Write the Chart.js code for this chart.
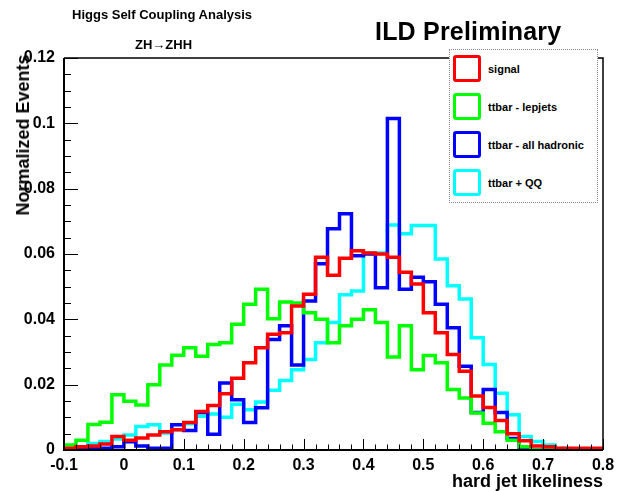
<!DOCTYPE html>
<html>
<head>
<meta charset="utf-8">
<script src="https://cdn.jsdelivr.net/npm/chart.js@4"></script>
<style>
  body { margin: 0; background: #fff; }
  #wrap { position: relative; width: 617px; height: 491px; font-family: "Liberation Sans", Arial, sans-serif; color: #000; }
  #c { position: absolute; left: 0; top: 0; }
  .txt { position: absolute; white-space: nowrap; font-weight: bold; line-height: 1; }
  #legend { position: absolute; left: 449px; top: 49px; width: 147px; height: 152px; border: 1px dotted #888; background: #fff; }
  .item { position: absolute; left: 3px; height: 27px; }
  .box { position: absolute; left: 0; top: 0; width: 22px; height: 21px; border: 3px solid; border-radius: 3px; }
  .lab { position: absolute; left: 35px; top: 8px; font-size: 11px; font-weight: bold; white-space: nowrap; }
</style>
</head>
<body>
<div id="wrap">
  <canvas id="c" width="617" height="491"></canvas>
  <div class="txt" style="left:72px; top:8px; font-size:13px;">Higgs Self Coupling Analysis</div>
  <div class="txt" style="left:135px; top:38px; font-size:13px;">ZH&#8594;ZHH</div>
  <div class="txt" style="left:375px; top:19px; font-size:25px; letter-spacing:0.2px;">ILD Preliminary</div>
  <div class="txt" style="left:23px; top:135px; font-size:18px; transform: translate(-50%,-50%) rotate(-90deg);">Normalized Events</div>
  <div class="txt" style="right:14px; top:472px; font-size:18px;">hard jet likeliness</div>
  <div id="legend"></div>
</div>
<script>
// histogram binning: 45 bins of 0.02 from -0.1 to 0.8
const binLow = -0.1;
const binWidth = 0.02;
const nBins = 45;

const labels = ["signal", "ttbar - lepjets", "ttbar - all  hadronic", "ttbar + QQ"];
const colors = ["#ff0000", "#00ff00", "#0000ff", "#00ffff"];

const signal = [
  0.0005, 0.0010, 0.0012, 0.0018, 0.0041, 0.0030, 0.0037, 0.0046, 0.0056, 0.0062,
  0.0084, 0.0118, 0.0136, 0.0172, 0.0220, 0.0267, 0.0313, 0.0354, 0.0359, 0.0441,
  0.0477, 0.0590, 0.0535, 0.0587, 0.0610, 0.0603, 0.0600, 0.0590, 0.0544, 0.0508,
  0.0420, 0.0359, 0.0292, 0.0241, 0.0165, 0.0130, 0.0090, 0.0050, 0.0028, 0.0012,
  0.0010, 0.0005, 0.0005, 0.0005, 0.0005
];
const lepjets = [
  0.0015, 0.0030, 0.0078, 0.0085, 0.0169, 0.0149, 0.0138, 0.0200, 0.0260, 0.0290,
  0.0313, 0.0287, 0.0323, 0.0328, 0.0385, 0.0446, 0.0492, 0.0402, 0.0453, 0.0450,
  0.0420, 0.0400, 0.0328, 0.0380, 0.0400, 0.0429, 0.0390, 0.0285, 0.0380, 0.0246,
  0.0289, 0.0267, 0.0185, 0.0159, 0.0113, 0.0082, 0.0056, 0.0030, 0.0010, 0.0000,
  0.0000, 0.0000, 0.0000, 0.0000, 0.0000
];
const allHadronic = [
  0.0003, 0.0003, 0.0005, 0.0005, 0.0010, 0.0025, 0.0012, 0.0005, 0.0005, 0.0077,
  0.0060, 0.0115, 0.0048, 0.0205, 0.0154, 0.0084, 0.0129, 0.0338, 0.0380, 0.0260,
  0.0456, 0.0570, 0.0677, 0.0723, 0.0595, 0.0600, 0.0497, 0.1015, 0.0492, 0.0529,
  0.0515, 0.0446, 0.0374, 0.0256, 0.0115, 0.0185, 0.0115, 0.0035, 0.0005, 0.0000,
  0.0000, 0.0000, 0.0000, 0.0000, 0.0000
];
const plusQQ = [
  0.0003, 0.0008, 0.0020, 0.0026, 0.0034, 0.0046, 0.0072, 0.0077, 0.0052, 0.0062,
  0.0080, 0.0103, 0.0110, 0.0100, 0.0140, 0.0123, 0.0147, 0.0183, 0.0213, 0.0246,
  0.0277, 0.0328, 0.0390, 0.0475, 0.0487, 0.0603, 0.0603, 0.0689, 0.0662, 0.0687,
  0.0687, 0.0585, 0.0503, 0.0462, 0.0344, 0.0262, 0.0174, 0.0108, 0.0041, 0.0026,
  0.0015, 0.0005, 0.0000, 0.0000, 0.0000
];

const xTicks = { min: -0.1, max: 0.8, step: 0.1 };
const yTicks = { min: 0, max: 0.12, step: 0.02 };

// points at every bin low edge plus the last high edge, drawn as steps
function histPoints(vals) {
  const pts = vals.map((v, i) => ({ x: binLow + i * binWidth, y: v }));
  pts.push({ x: binLow + nBins * binWidth, y: vals[vals.length - 1] });
  return pts;
}

const series = [signal, lepjets, allHadronic, plusQQ];

// legend
const legend = document.getElementById("legend");
labels.forEach((l, i) => {
  const it = document.createElement("div");
  it.className = "item";
  it.style.top = (5 + i * 38) + "px";
  it.innerHTML = '<div class="box" style="border-color:' + colors[i] + '"></div><div class="lab">' + l + '</div>';
  legend.appendChild(it);
});

// ROOT style labels: 0.1 not 0.10
const rootLabel = (v) => String(+Number(v).toFixed(2));

// frame and inward ticks like ROOT
const frameTicks = {
  id: "frameTicks",
  afterDatasetsDraw(chart) {
    const { ctx, chartArea: a, scales } = chart;
    const x = scales.x, y = scales.y;
    ctx.save();
    ctx.strokeStyle = "#000";
    ctx.lineWidth = 1;
    ctx.beginPath();
    for (let k = 0; k <= 45; k++) {
      const px = Math.round(x.getPixelForValue(-0.1 + k * 0.02)) + 0.5;
      const len = k % 5 === 0 ? 11 : 5.5;
      ctx.moveTo(px, a.bottom);
      ctx.lineTo(px, a.bottom - len);
    }
    for (let k = 0; k <= 24; k++) {
      const py = Math.round(y.getPixelForValue(k * 0.005)) + 0.5;
      const len = k % 4 === 0 ? 14 : 7;
      ctx.moveTo(a.left, py);
      ctx.lineTo(a.left + len, py);
    }
    ctx.stroke();
    ctx.lineWidth = 1.5;
    ctx.beginPath();
    ctx.moveTo(a.left, a.top);
    ctx.lineTo(a.right, a.top);
    ctx.lineTo(a.right, a.bottom);
    ctx.stroke();
    ctx.lineWidth = 2;
    ctx.beginPath();
    ctx.moveTo(a.left, a.top);
    ctx.lineTo(a.left, a.bottom);
    ctx.lineTo(a.right, a.bottom);
    ctx.stroke();
    ctx.restore();
  }
};

Chart.defaults.font.family = '"Liberation Sans", Arial, sans-serif';
Chart.defaults.color = "#000";

new Chart(document.getElementById("c").getContext("2d"), {
  type: "line",
  data: {
    datasets: series.map((s, i) => ({
      label: labels[i],
      data: histPoints(s),
      borderColor: colors[i],
      borderWidth: 3.5,
      stepped: "before",
      pointRadius: 0,
      fill: false,
      borderJoinStyle: "miter",
      borderCapStyle: "butt"
    }))
  },
  options: {
    responsive: false,
    animation: false,
    devicePixelRatio: 1,
    layout: { padding: { top: 58, right: 14, left: 0, bottom: 0 } },
    plugins: { legend: { display: false }, tooltip: { enabled: false } },
    scales: {
      x: {
        type: "linear",
        min: xTicks.min,
        max: xTicks.max,
        grid: { display: false },
        border: { display: false },
        ticks: {
          stepSize: xTicks.step,
          padding: -2,
          maxRotation: 0,
          font: { size: 16, weight: "bold" },
          callback: rootLabel
        },
        afterFit(scale) { scale.height = 41; }
      },
      y: {
        min: yTicks.min,
        max: yTicks.max,
        grid: { display: false },
        border: { display: false },
        ticks: {
          stepSize: yTicks.step,
          padding: 1,
          font: { size: 16, weight: "bold" },
          callback: rootLabel
        },
        afterFit(scale) { scale.width = 64; }
      }
    }
  },
  plugins: [frameTicks]
});
</script>
</body>
</html>
